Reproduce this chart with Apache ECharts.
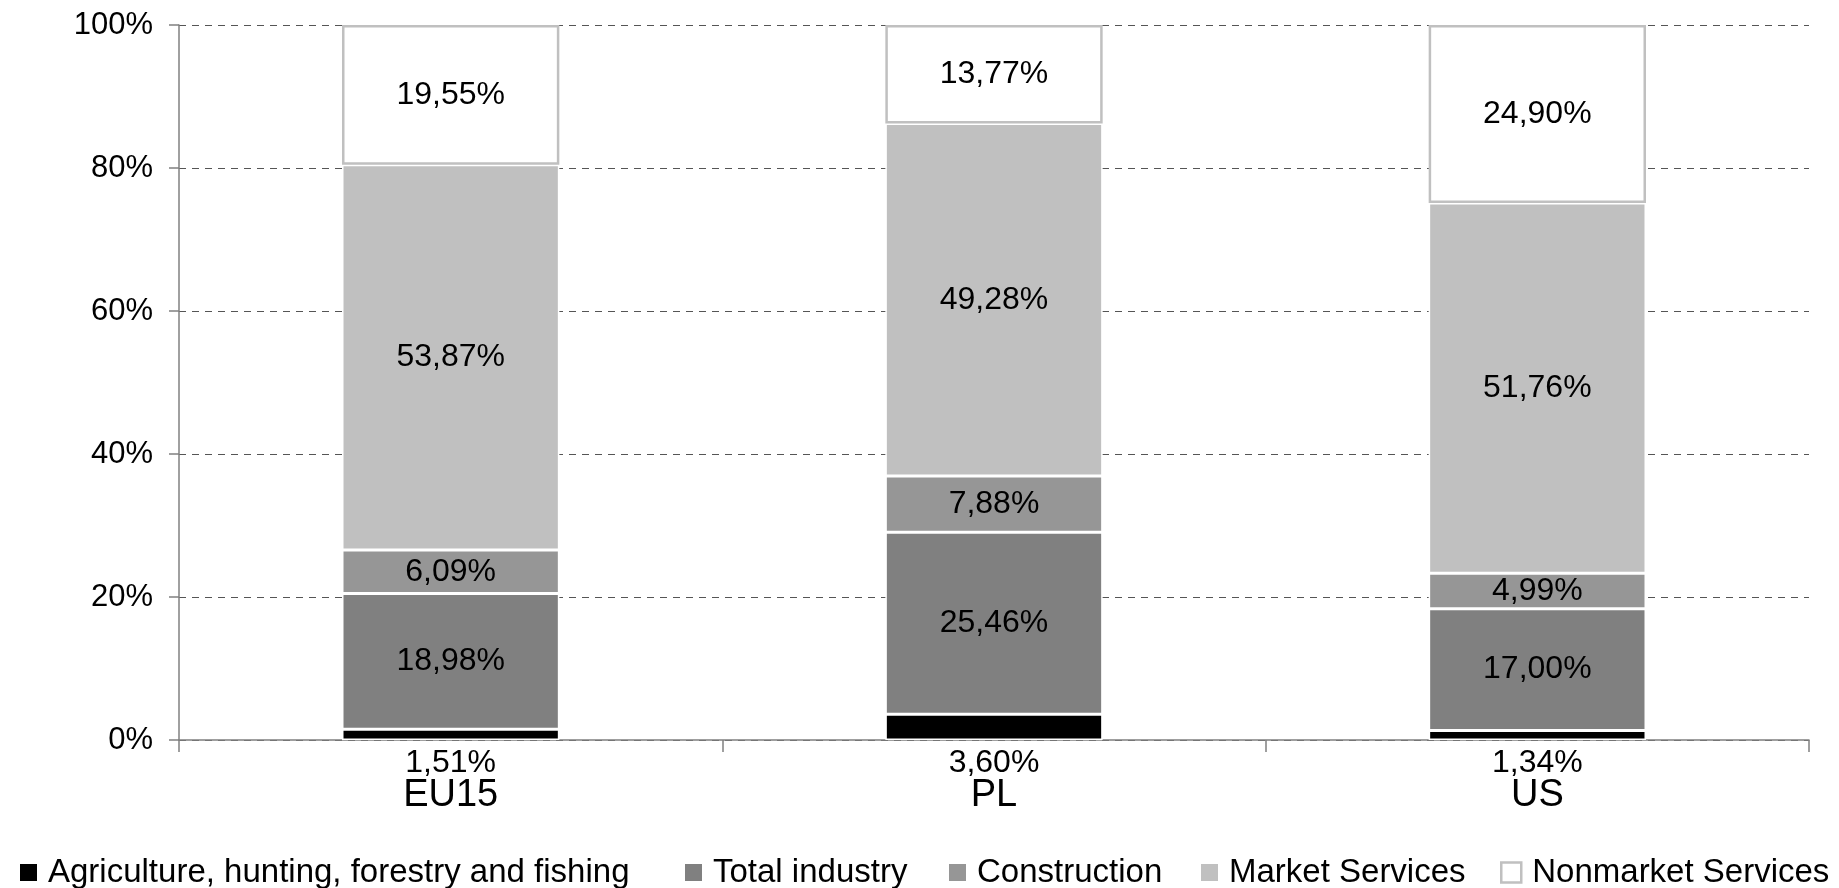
<!DOCTYPE html>
<html>
<head>
<meta charset="utf-8">
<script src="https://cdn.jsdelivr.net/npm/echarts@6/dist/echarts.min.js"></script>
<style>
html,body{margin:0;padding:0;background:#fff;}
#chart{width:1839px;height:888px;}
</style>
</head>
<body>
<div id="chart"></div>
<script>
const categories = ['EU15', 'PL', 'US'];
const seriesNames = ['Agriculture, hunting, forestry and fishing', 'Total industry', 'Construction', 'Market Services', 'Nonmarket Services'];
const agriculture = [1.51, 3.60, 1.34];
const totalIndustry = [18.98, 25.46, 17.00];
const construction = [6.09, 7.88, 4.99];
const marketServices = [53.87, 49.28, 51.76];
const nonmarketServices = [19.55, 13.77, 24.90];
const yTicks = [0, 20, 40, 60, 80, 100];

const FONT = 'Liberation Sans, Arial, sans-serif';
const fmt = v => v.toFixed(2).replace('.', ',') + '%';

const values = [agriculture, totalIndustry, construction, marketServices, nonmarketServices];
const fills = ['#000000', '#808080', '#969696', '#C0C0C0', '#FFFFFF'];
const borders = ['#FFFFFF', '#FFFFFF', '#FFFFFF', '#FFFFFF', '#C0C0C0'];
const borderWidths = [1.5, 1.5, 1.5, 1.5, 2.5];

const series = seriesNames.map((name, i) => ({
  name: name,
  type: 'bar',
  stack: 'total',
  barWidth: '40%',
  data: values[i],
  itemStyle: { color: fills[i], borderColor: borders[i], borderWidth: borderWidths[i] },
  label: {
    show: true,
    position: i === 0 ? 'bottom' : 'inside',
    distance: 7,
    formatter: p => fmt(p.value),
    color: '#000',
    fontFamily: FONT,
    fontSize: 32
  },
  emphasis: { disabled: true },
  animation: false
}));

const legendLefts = [15, 680, 944, 1196, 1495];
const legends = seriesNames.map((name, i) => ({
  data: [{ name: name, icon: 'rect' }],
  left: legendLefts[i],
  top: 851,
  itemWidth: i === 4 ? 20 : 17,
  itemHeight: i === 4 ? 20 : 17,
  itemGap: 0,
  itemStyle: i === 4 ? { borderColor: '#C0C0C0', borderWidth: 2.5 } : { borderWidth: 0 },
  textStyle: { fontFamily: FONT, fontSize: 33, color: '#000', padding: [0, 0, 0, 6] },
  selectedMode: false
}));

const chart = echarts.init(document.getElementById('chart'), null, { renderer: 'canvas' });
chart.setOption({
  backgroundColor: '#fff',
  animation: false,
  grid: { left: 179, right: 30, top: 25, bottom: 148, containLabel: false },
  legend: legends,
  xAxis: {
    type: 'category',
    data: categories,
    axisLine: { show: true, lineStyle: { color: '#808080', width: 1.5 } },
    axisTick: { show: true, length: 12, lineStyle: { color: '#808080', width: 1.5 } },
    axisLabel: { fontFamily: FONT, fontSize: 38, color: '#000', margin: 37 }
  },
  yAxis: {
    type: 'value',
    min: yTicks[0],
    max: yTicks[yTicks.length - 1],
    interval: yTicks[1] - yTicks[0],
    axisLine: { show: true, lineStyle: { color: '#808080', width: 1.5 } },
    axisTick: { show: true, length: 10, lineStyle: { color: '#808080', width: 1.5 } },
    axisLabel: { fontFamily: FONT, fontSize: 31, color: '#000', margin: 26, formatter: '{value}%' },
    splitLine: { show: true, lineStyle: { color: '#555', width: 1, type: [7, 6] } }
  },
  series: series
});
</script>
</body>
</html>
